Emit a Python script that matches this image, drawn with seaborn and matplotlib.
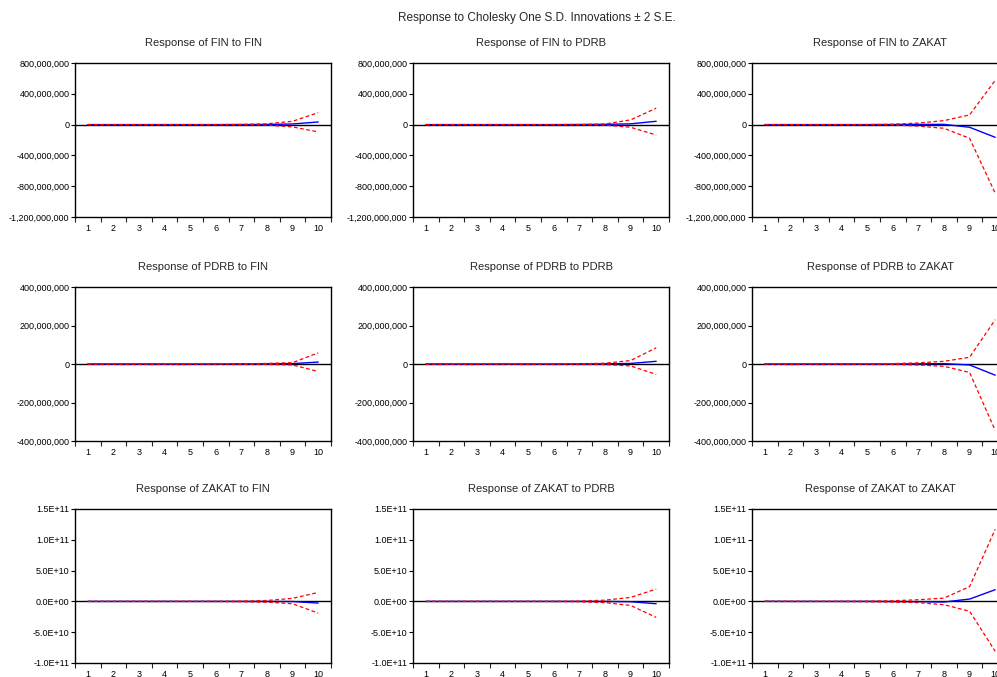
import numpy as np
import pandas as pd
import matplotlib
matplotlib.use("Agg")
import matplotlib.pyplot as plt
import seaborn as sns
from matplotlib.ticker import FuncFormatter, FixedLocator

# periode respon
periods = [1, 2, 3, 4, 5, 6, 7, 8, 9, 10]

# FIN
fin_fin_resp = [0, 0, 0, 0, 0, 0, 0.5e6, 2e6, 8e6, 34e6]
fin_fin_up = [0, 0, 0, 0, 0, 0.5e6, 3e6, 10e6, 43e6, 155e6]
fin_fin_lo = [0, 0, 0, 0, 0, -0.5e6, -2e6, -6e6, -30e6, -95e6]

fin_pdrb_resp = [0, 0, 0, 0, 0, 0, 1e6, 3e6, 10e6, 43e6]
fin_pdrb_up = [0, 0, 0, 0, 0, 0.5e6, 2e6, 8e6, 61e6, 213e6]
fin_pdrb_lo = [0, 0, 0, 0, 0, -0.5e6, -2e6, -6e6, -35e6, -135e6]

fin_zakat_resp = [0, 0, 0, 0, 0, 1e6, 3e6, 3e6, -35e6, -165e6]
fin_zakat_up = [0, 0, 0, 0, 1e6, 5e6, 20e6, 52e6, 126e6, 574e6]
fin_zakat_lo = [0, 0, 0, 0, -1e6, -4e6, -20e6, -48e6, -178e6, -891e6]

# PDRB
pdrb_fin_resp = [0, 0, 0, 0, 0, 0, 0.5e6, 1e6, 2e6, 10e6]
pdrb_fin_up = [0, 0, 0, 0, 0, 0.3e6, 1e6, 3e6, 7e6, 58e6]
pdrb_fin_lo = [0, 0, 0, 0, 0, -0.3e6, -1e6, -2e6, -5e6, -39e6]

pdrb_pdrb_resp = [0, 0, 0, 0, 0, 0, 0.5e6, 1e6, 3e6, 14e6]
pdrb_pdrb_up = [0, 0, 0, 0, 0, 0.3e6, 1e6, 4e6, 18e6, 84e6]
pdrb_pdrb_lo = [0, 0, 0, 0, 0, -0.3e6, -1e6, -3e6, -10e6, -54e6]

pdrb_zakat_resp = [0, 0, 0, 0, 0, 0, 1e6, 2e6, -5e6, -58e6]
pdrb_zakat_up = [0, 0, 0, 0, 0.5e6, 2e6, 6e6, 14e6, 35e6, 230e6]
pdrb_zakat_lo = [0, 0, 0, 0, -0.5e6, -2e6, -5e6, -12e6, -44e6, -345e6]

# ZAKAT
zakat_fin_resp = [0, 0, 0, 0, 0, 0, 0, -0.1e9, -0.2e9, -2.7e9]
zakat_fin_up = [0, 0, 0, 0, 0.1e9, 0.2e9, 0.5e9, 1.5e9, 5e9, 14.5e9]
zakat_fin_lo = [0, 0, 0, 0, -0.1e9, -0.2e9, -0.5e9, -1.2e9, -3.8e9, -19e9]

zakat_pdrb_resp = [0, 0, 0, 0, 0, 0, 0, -0.1e9, -0.5e9, -3.8e9]
zakat_pdrb_up = [0, 0, 0, 0, 0.1e9, 0.2e9, 0.5e9, 2e9, 6.5e9, 20e9]
zakat_pdrb_lo = [0, 0, 0, 0, -0.1e9, -0.2e9, -0.5e9, -2e9, -6.5e9, -26e9]

zakat_zakat_resp = [0.1e9, 0, 0, 0, 0, -0.2e9, -0.5e9, -1e9, 3.8e9, 19e9]
zakat_zakat_up = [0.1e9, 0.1e9, 0.1e9, 0.2e9, 0.5e9, 1e9, 2.7e9, 5.4e9, 24e9, 117e9]
zakat_zakat_lo = [0.1e9, -0.1e9, -0.1e9, -0.2e9, -0.5e9, -1e9, -2e9, -5.4e9, -16e9, -81e9]

variables = ["FIN", "PDRB", "ZAKAT"]
panels = {
    ("FIN", "FIN"): (fin_fin_resp, fin_fin_up, fin_fin_lo),
    ("FIN", "PDRB"): (fin_pdrb_resp, fin_pdrb_up, fin_pdrb_lo),
    ("FIN", "ZAKAT"): (fin_zakat_resp, fin_zakat_up, fin_zakat_lo),
    ("PDRB", "FIN"): (pdrb_fin_resp, pdrb_fin_up, pdrb_fin_lo),
    ("PDRB", "PDRB"): (pdrb_pdrb_resp, pdrb_pdrb_up, pdrb_pdrb_lo),
    ("PDRB", "ZAKAT"): (pdrb_zakat_resp, pdrb_zakat_up, pdrb_zakat_lo),
    ("ZAKAT", "FIN"): (zakat_fin_resp, zakat_fin_up, zakat_fin_lo),
    ("ZAKAT", "PDRB"): (zakat_pdrb_resp, zakat_pdrb_up, zakat_pdrb_lo),
    ("ZAKAT", "ZAKAT"): (zakat_zakat_resp, zakat_zakat_up, zakat_zakat_lo),
}

# skala sumbu y per baris
row_ylim = {"FIN": (-1.2e9, 8e8), "PDRB": (-4e8, 4e8), "ZAKAT": (-1e11, 1.5e11)}
row_yticks = {
    "FIN": [-1.2e9, -8e8, -4e8, 0, 4e8, 8e8],
    "PDRB": [-4e8, -2e8, 0, 2e8, 4e8],
    "ZAKAT": [-1e11, -5e10, 0, 5e10, 1e11, 1.5e11],
}

def fmt_comma(v, pos):
    return f"{v:,.0f}"

def fmt_sci(v, pos):
    m, e = f"{v:.1E}".split("E")
    return f"{m}E{e[0]}{int(e[1:]):02d}"

sns.set_style("white")
plt.rcParams["font.family"] = ["Liberation Sans", "DejaVu Sans"]

W, H = 997, 677
fig = plt.figure(figsize=(W / 100, H / 100), dpi=100)

col_left = [75, 413, 752]
row_top = [63, 287, 509]
ax_w, ax_h = 256, 154

for i, resp_var in enumerate(variables):
    for j, imp_var in enumerate(variables):
        ax = fig.add_axes([col_left[j] / W, 1 - (row_top[i] + ax_h) / H, ax_w / W, ax_h / H])
        resp, up, lo = panels[(resp_var, imp_var)]
        df = pd.DataFrame({"period": periods, "resp": resp, "up": up, "lo": lo})

        ax.axhline(0, color="black", lw=1.0, zorder=1)
        sns.lineplot(data=df, x="period", y="resp", ax=ax, color="#0000ff", lw=1.0, zorder=2)
        sns.lineplot(data=df, x="period", y="up", ax=ax, color="#ff0000", lw=0.9,
                     linestyle="--", zorder=3)
        sns.lineplot(data=df, x="period", y="lo", ax=ax, color="#ff0000", lw=0.9,
                     linestyle="--", zorder=3)
        for ln in ax.lines[-2:]:
            ln.set_dashes((3, 2))

        ax.set_xlim(0.5, 10.5)
        ax.set_ylim(*row_ylim[resp_var])
        ax.set_xticks(periods)
        ax.xaxis.set_minor_locator(FixedLocator(np.arange(0.5, 11, 1)))
        ax.set_yticks(row_yticks[resp_var])
        if resp_var == "ZAKAT":
            ax.yaxis.set_major_formatter(FuncFormatter(fmt_sci))
        else:
            ax.yaxis.set_major_formatter(FuncFormatter(fmt_comma))
        ax.tick_params(axis="x", which="major", length=0, labelsize=6.5, pad=5, colors="black")
        ax.tick_params(axis="x", which="minor", length=3.5, width=0.8, direction="out", bottom=True)
        ax.tick_params(axis="y", which="major", length=3, width=0.8, direction="out", left=True,
                       labelsize=6.5, pad=1, colors="black")
        for s in ax.spines.values():
            s.set_color("black")
            s.set_linewidth(1.0)
        ax.set_xlabel("")
        ax.set_ylabel("")
        ax.set_title(f"Response of {resp_var} to {imp_var}", fontsize=8, pad=12)

fig.text(537 / W, 1 - 18 / H, "Response to Cholesky One S.D. Innovations \u00b1 2 S.E.",
         ha="center", va="center", fontsize=8.5)

fig.savefig("out.png", dpi=100)
